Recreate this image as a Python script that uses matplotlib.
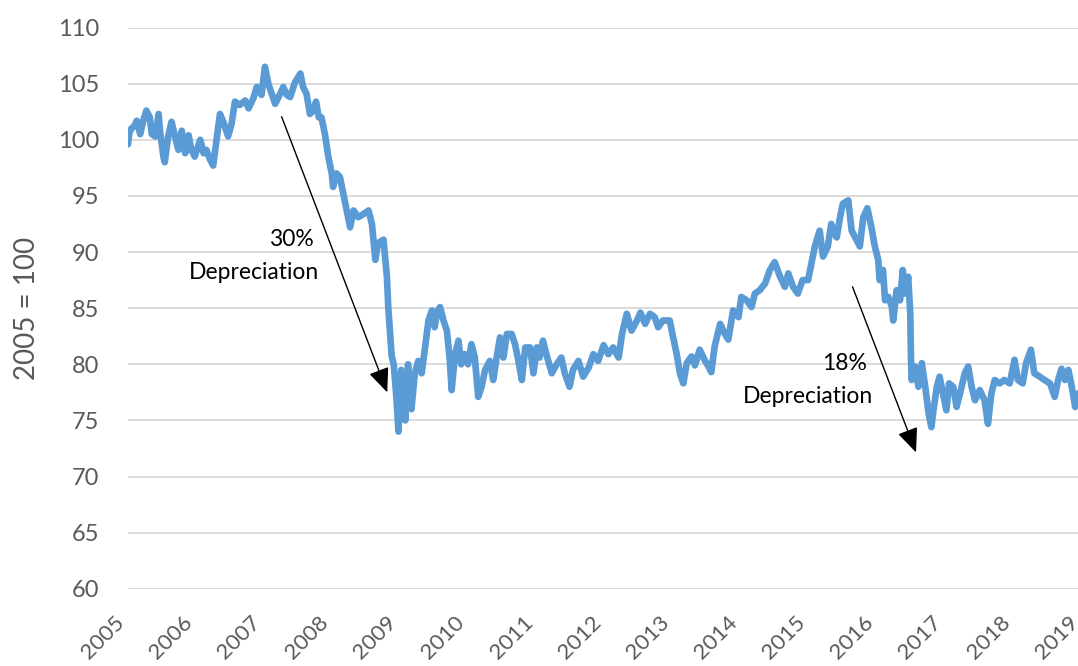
#!/usr/bin/env python3
"""
Sterling effective exchange rate index (2005 = 100), 2005-2019
Redrawn from a chart picture, values read off by eye.
"""

import matplotlib
matplotlib.use("Agg")
import matplotlib.pyplot as plt

plt.rcParams['font.family'] = ['Lato', 'DejaVu Sans']

# decimal year / index value pairs
years = [
    2005.00, 2005.02, 2005.05, 2005.09, 2005.13, 2005.18, 2005.22, 2005.27, 2005.32, 2005.35,
    2005.40, 2005.45, 2005.47, 2005.52, 2005.54, 2005.59, 2005.64, 2005.69, 2005.74, 2005.79,
    2005.84, 2005.89, 2005.93, 2005.98, 2006.06, 2006.11, 2006.15, 2006.20, 2006.25, 2006.30,
    2006.35, 2006.40, 2006.47, 2006.52, 2006.57, 2006.64, 2006.72, 2006.77, 2006.84, 2006.89,
    2006.96, 2007.01, 2007.06, 2007.11, 2007.16, 2007.21, 2007.28, 2007.33, 2007.38, 2007.45,
    2007.53, 2007.57, 2007.62, 2007.67, 2007.72, 2007.76, 2007.80, 2007.84, 2007.89, 2007.94,
    2007.99, 2008.01, 2008.06, 2008.11, 2008.16, 2008.21, 2008.26, 2008.31, 2008.38, 2008.46,
    2008.53, 2008.58, 2008.63, 2008.67, 2008.75, 2008.80, 2008.82, 2008.84, 2008.87, 2008.90,
    2008.94, 2008.97, 2009.01, 2009.04, 2009.07, 2009.11, 2009.16, 2009.21, 2009.26, 2009.31,
    2009.36, 2009.41, 2009.46, 2009.50, 2009.54, 2009.58, 2009.63, 2009.68, 2009.72, 2009.75,
    2009.80, 2009.85, 2009.89, 2009.94, 2009.99, 2010.04, 2010.09, 2010.14, 2010.19, 2010.24,
    2010.31, 2010.36, 2010.41, 2010.46, 2010.51, 2010.56, 2010.63, 2010.68, 2010.73, 2010.78,
    2010.83, 2010.90, 2010.95, 2011.00, 2011.04, 2011.09, 2011.14, 2011.22, 2011.29, 2011.36,
    2011.41, 2011.48, 2011.53, 2011.61, 2011.68, 2011.76, 2011.83, 2011.90, 2011.98, 2012.05,
    2012.12, 2012.20, 2012.25, 2012.32, 2012.39, 2012.47, 2012.52, 2012.59, 2012.66, 2012.73,
    2012.78, 2012.85, 2012.95, 2013.00, 2013.05, 2013.10, 2013.15, 2013.20, 2013.27, 2013.32,
    2013.39, 2013.46, 2013.52, 2013.56, 2013.61, 2013.69, 2013.76, 2013.81, 2013.88, 2013.96,
    2014.00, 2014.08, 2014.15, 2014.20, 2014.27, 2014.35, 2014.42, 2014.49, 2014.57, 2014.64,
    2014.69, 2014.76, 2014.83, 2014.90, 2014.98, 2015.03, 2015.08, 2015.15, 2015.20, 2015.27,
    2015.32, 2015.40, 2015.45, 2015.49, 2015.57, 2015.62, 2015.69, 2015.74, 2015.79, 2015.85,
    2015.91, 2015.96, 2016.01, 2016.03, 2016.08, 2016.11, 2016.16, 2016.21, 2016.23, 2016.28,
    2016.33, 2016.37, 2016.40, 2016.45, 2016.48, 2016.49, 2016.50, 2016.55, 2016.60, 2016.65,
    2016.70, 2016.75, 2016.79, 2016.82, 2016.87, 2016.91, 2016.96, 2017.01, 2017.05, 2017.11,
    2017.16, 2017.21, 2017.28, 2017.33, 2017.38, 2017.43, 2017.50, 2017.57, 2017.62, 2017.67,
    2017.72, 2017.79, 2017.86, 2017.94, 2018.01, 2018.06, 2018.13, 2018.18, 2018.25, 2018.30,
    2018.38, 2018.45, 2018.53, 2018.60, 2018.65, 2018.70, 2018.75, 2018.80, 2018.85, 2018.90,
    2018.94,
]

index_values = [
    99.6, 100.6, 101.0, 101.2, 101.7, 100.5, 101.6, 102.6, 102.0, 100.5,
    100.3, 102.3, 100.8, 98.5, 98.0, 100.3, 101.6, 100.3, 99.1, 100.8,
    98.8, 100.4, 99.1, 98.5, 100.0, 98.8, 99.1, 98.3, 97.7, 100.0,
    102.3, 101.6, 100.3, 101.4, 103.4, 103.1, 103.5, 102.8, 103.7, 104.7,
    104.0, 106.5, 105.0, 104.1, 103.2, 103.8, 104.7, 104.0, 103.8, 105.1,
    105.9, 104.7, 104.1, 102.3, 102.6, 103.4, 102.0, 102.0, 100.5, 98.5,
    97.0, 95.8, 97.0, 96.7, 95.2, 93.7, 92.2, 93.7, 93.1, 93.4,
    93.7, 92.5, 89.3, 90.8, 91.1, 87.8, 85.1, 83.3, 80.7, 80.0,
    77.0, 74.0, 79.5, 78.5, 75.0, 80.0, 76.0, 79.2, 80.3, 79.2,
    81.5, 83.9, 84.8, 83.3, 84.7, 85.1, 83.9, 83.0, 80.6, 77.7,
    80.9, 82.1, 80.0, 80.9, 80.0, 81.8, 80.6, 77.1, 78.0, 79.5,
    80.3, 78.6, 80.6, 82.4, 80.6, 82.7, 82.7, 81.8, 80.3, 78.6,
    81.5, 81.5, 79.2, 81.5, 80.6, 82.1, 80.9, 79.2, 80.0, 80.6,
    79.2, 78.0, 79.5, 80.3, 78.9, 79.7, 80.9, 80.3, 81.7, 80.9,
    81.5, 80.6, 82.7, 84.5, 83.0, 83.9, 84.6, 83.6, 84.5, 84.2,
    83.3, 83.9, 83.9, 82.4, 81.0, 79.2, 78.3, 80.1, 80.7, 79.9,
    81.3, 80.4, 79.8, 79.3, 81.6, 83.6, 82.7, 82.2, 84.8, 84.2,
    86.0, 85.7, 85.1, 86.3, 86.6, 87.2, 88.4, 89.1, 87.8, 86.9,
    88.1, 86.9, 86.3, 87.5, 87.5, 89.0, 90.5, 91.9, 89.6, 90.5,
    92.5, 91.3, 93.1, 94.3, 94.6, 91.9, 91.1, 90.5, 93.1, 93.9,
    92.2, 90.5, 89.3, 87.5, 88.4, 85.7, 86.0, 85.1, 83.9, 86.6,
    85.7, 88.4, 86.3, 87.8, 84.5, 80.7, 78.6, 79.8, 78.0, 80.1,
    78.0, 75.6, 74.4, 75.9, 78.0, 78.9, 77.4, 75.9, 78.3, 78.0,
    76.2, 77.4, 79.2, 79.8, 78.0, 76.8, 77.7, 76.8, 74.7, 77.4,
    78.6, 78.3, 78.6, 78.3, 80.4, 78.6, 78.3, 80.1, 81.3, 79.2,
    78.9, 78.6, 78.3, 77.1, 78.6, 79.6, 78.6, 79.5, 78.0, 76.2,
    77.4,
]

tick_years = list(range(2005, 2020))
y_ticks = [60, 65, 70, 75, 80, 85, 90, 95, 100, 105, 110]

# annotation text and arrow ends (x in years, y in index points)
notes = [
    ("30%", 2007.73, 90.5),
    ("Depreciation", 2007.80, 87.6),
    ("18%", 2015.85, 79.45),
    ("Depreciation", 2015.93, 76.55),
]
arrows = [
    ((2007.255, 102.05), (2008.805, 77.5)),
    ((2015.633, 86.9), (2016.565, 72.15)),
]

LINE_COLOR = '#5B9BD5'
TEXT_GREY = '#595959'


def make_chart(output_file):
    fig = plt.figure(figsize=(10.78, 6.66), dpi=100)
    # right edge sits a little past the picture, like the cut-off 2019 label
    ax = fig.add_axes([0.1187, 0.1159, 0.885, 0.8428])

    ax.plot(years, index_values, color=LINE_COLOR, linewidth=4.8,
            solid_joinstyle='round', solid_capstyle='round', zorder=3)

    ax.set_xlim(2005, 2019)
    ax.set_ylim(60, 110)
    ax.set_xticks(tick_years)
    ax.set_xticklabels([str(y) for y in tick_years], rotation=45, ha='right')
    ax.set_yticks(y_ticks)

    ax.set_axisbelow(True)
    ax.yaxis.grid(True, color='#D9D9D9', linewidth=1.3)
    ax.xaxis.grid(False)
    for side in ax.spines.values():
        side.set_visible(False)

    ax.tick_params(axis='y', length=0, pad=21, labelsize=17, labelcolor=TEXT_GREY)
    ax.tick_params(axis='x', length=0, pad=17, labelsize=16, labelcolor=TEXT_GREY)

    ax.set_ylabel('2005 = 100', fontsize=20, color=TEXT_GREY)
    ax.yaxis.set_label_coords(-0.092, 0.5)

    for label, x, y in notes:
        ax.text(x, y, label, ha='right', va='baseline', fontsize=16.5, color='black')

    for (x0, y0), (x1, y1) in arrows:
        ax.annotate('', xy=(x1, y1), xytext=(x0, y0),
                    arrowprops=dict(arrowstyle='-|>,head_length=0.75,head_width=0.32',
                                    mutation_scale=20, color='black', lw=1.0,
                                    shrinkA=0, shrinkB=0))

    fig.savefig(output_file, dpi=100)
    print(f"Chart saved to: {output_file}")


def main():
    make_chart("out.png")


if __name__ == '__main__':
    main()
